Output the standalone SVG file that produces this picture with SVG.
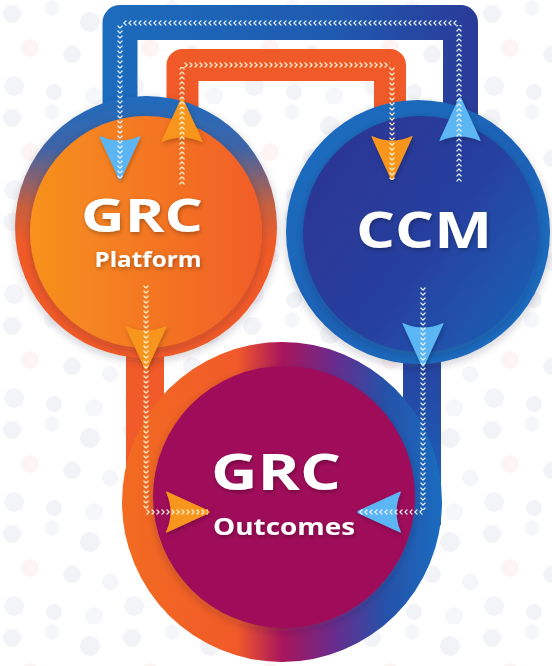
<svg xmlns="http://www.w3.org/2000/svg" xmlns:xlink="http://www.w3.org/1999/xlink" width="552" height="666" viewBox="0 0 552 666">
  <defs>
    <style>
      .label { font-family: "Open Sans", "Liberation Sans", sans-serif; font-weight: 700; fill: #ffffff; text-anchor: middle; }
      .sub { font-family: "Open Sans", "Liberation Sans", sans-serif; font-weight: 700; fill: #ffffff; text-anchor: middle; }
      .chev-b { fill: url(#chevB); }
      .chev-o { fill: url(#chevO); }
      .head-b { fill: #5bb6f3; }
      .head-o { fill: #f8951d; }
    </style>

    <!-- faint dotted backdrop -->
    <pattern id="dots" patternUnits="userSpaceOnUse" width="120" height="104">
      <circle cx="12" cy="14" r="9" fill="#f3f4f8"/>
      <circle cx="52" cy="8" r="8" fill="#f6f7fa"/>
      <circle cx="90" cy="22" r="10" fill="#f2f3f7"/>
      <circle cx="30" cy="48" r="9" fill="#fdf4f4"/>
      <circle cx="72" cy="54" r="9" fill="#f3f4f8"/>
      <circle cx="110" cy="62" r="8" fill="#f5f6f9"/>
      <circle cx="14" cy="86" r="10" fill="#f4f5f9"/>
      <circle cx="54" cy="92" r="8" fill="#f2f3f7"/>
      <circle cx="94" cy="96" r="9" fill="#f6f7fa"/>
    </pattern>

    <!-- chevron strips: one "v" every 5px, centred on x=0 -->
    <pattern id="chevB" patternUnits="userSpaceOnUse" x="-3" y="0" width="6" height="5">
      <path d="M0.9,1 L3,3.2 L5.1,1" fill="none" stroke="#e3f1ff" stroke-width="1.2" stroke-linecap="round" stroke-linejoin="round"/>
    </pattern>
    <pattern id="chevO" patternUnits="userSpaceOnUse" x="-3" y="0" width="6" height="5">
      <path d="M0.9,1 L3,3.2 L5.1,1" fill="none" stroke="#fff2cf" stroke-width="1.2" stroke-linecap="round" stroke-linejoin="round"/>
    </pattern>

    <!-- arrowhead pointing down, tip at origin -->
    <path id="ahead" d="M-20,-44 Q0,-35 20,-44 Q21,-45 20,-42 L1.5,-1.5 Q0,1 -1.5,-1.5 L-20,-42 Q-21,-45 -20,-44 Z"/>

    <linearGradient id="bandBlue" gradientUnits="userSpaceOnUse" x1="100" y1="0" x2="480" y2="0">
      <stop offset="0" stop-color="#1c6cbd"/>
      <stop offset="0.6" stop-color="#1f5bb0"/>
      <stop offset="1" stop-color="#2a3a98"/>
    </linearGradient>
    <linearGradient id="barBlue" gradientUnits="userSpaceOnUse" x1="0" y1="330" x2="0" y2="520">
      <stop offset="0" stop-color="#2a3d99"/>
      <stop offset="1" stop-color="#1766bf"/>
    </linearGradient>

    <linearGradient id="platRing" gradientUnits="userSpaceOnUse" x1="0" y1="96" x2="0" y2="358">
      <stop offset="0" stop-color="#1f6bbd"/>
      <stop offset="0.2" stop-color="#3f64a6"/>
      <stop offset="0.42" stop-color="#c8603f"/>
      <stop offset="0.56" stop-color="#f05a28"/>
      <stop offset="1" stop-color="#f15a29"/>
    </linearGradient>
    <linearGradient id="platFill" gradientUnits="userSpaceOnUse" x1="29" y1="0" x2="263" y2="0">
      <stop offset="0" stop-color="#f7921e"/>
      <stop offset="1" stop-color="#f15d27"/>
    </linearGradient>

    <linearGradient id="ccmRing" gradientUnits="userSpaceOnUse" x1="300" y1="100" x2="540" y2="364">
      <stop offset="0" stop-color="#1e6ec0"/>
      <stop offset="0.5" stop-color="#1c62b6"/>
      <stop offset="1" stop-color="#1f6fc2"/>
    </linearGradient>
    <linearGradient id="ccmFill" gradientUnits="userSpaceOnUse" x1="302" y1="150" x2="540" y2="320">
      <stop offset="0" stop-color="#2b3491"/>
      <stop offset="0.55" stop-color="#2740a0"/>
      <stop offset="1" stop-color="#1b62b6"/>
    </linearGradient>

    <linearGradient id="outRing" gradientUnits="userSpaceOnUse" x1="122" y1="0" x2="442" y2="0">
      <stop offset="0" stop-color="#f26b21"/>
      <stop offset="0.36" stop-color="#f15a29"/>
      <stop offset="0.5" stop-color="#a8155b"/>
      <stop offset="0.66" stop-color="#6a2b8c"/>
      <stop offset="0.82" stop-color="#2651a8"/>
      <stop offset="1" stop-color="#1a6cc0"/>
    </linearGradient>

    <filter id="soft" x="-20%" y="-20%" width="140%" height="140%">
      <feDropShadow dx="0" dy="3" stdDeviation="4" flood-color="#1a1a2e" flood-opacity="0.22"/>
    </filter>
    <filter id="txt" x="-20%" y="-30%" width="140%" height="160%">
      <feDropShadow dx="1" dy="2" stdDeviation="2" flood-color="#000000" flood-opacity="0.3"/>
    </filter>
    <filter id="headShadow" x="-40%" y="-40%" width="180%" height="180%">
      <feDropShadow dx="1" dy="2" stdDeviation="2" flood-color="#000000" flood-opacity="0.25"/>
    </filter>
  </defs>

  <!-- backdrop -->
  <rect width="552" height="666" fill="#ffffff"/>
  <rect width="552" height="666" fill="url(#dots)"/>

  <!-- thick bands linking the nodes (drawn under the circles) -->
  <g id="connector-bands">
    <path d="M120,125 V22.5 H460.5 V120" fill="none" stroke="url(#bandBlue)" stroke-width="35" stroke-linejoin="round"/>
    <path d="M182.5,125 V65 H390 V125" fill="none" stroke="#f05a28" stroke-width="32" stroke-linejoin="round"/>
    <rect x="126" y="300" width="38" height="225" fill="#f15a29"/>
    <rect x="403" y="320" width="38" height="205" fill="url(#barBlue)"/>
  </g>

  <g id="grc-outcomes">
    <circle cx="282" cy="502" r="160" fill="url(#outRing)"/>
    <circle cx="284" cy="497" r="131" fill="#9f0a5a" filter="url(#soft)"/>
    <text class="label" x="276" y="490" font-size="50" textLength="130" lengthAdjust="spacingAndGlyphs" filter="url(#txt)">GRC</text>
    <text class="sub" x="284" y="535" font-size="24" textLength="142" lengthAdjust="spacingAndGlyphs" filter="url(#txt)">Outcomes</text>
  </g>

  <g id="grc-platform">
    <circle cx="146" cy="227" r="131" fill="url(#platRing)" filter="url(#soft)"/>
    <circle cx="146" cy="232" r="116" fill="url(#platFill)" filter="url(#soft)"/>
    <text class="label" x="142" y="232" font-size="46" textLength="122" lengthAdjust="spacingAndGlyphs" filter="url(#txt)">GRC</text>
    <text class="sub" x="148" y="267" font-size="22" textLength="107" lengthAdjust="spacingAndGlyphs" filter="url(#txt)">Platform</text>
  </g>

  <g id="ccm">
    <circle cx="418" cy="232" r="132" fill="url(#ccmRing)" filter="url(#soft)"/>
    <circle cx="421" cy="234" r="118" fill="url(#ccmFill)" filter="url(#soft)"/>
    <text class="label" x="424" y="248" font-size="50" textLength="136" lengthAdjust="spacingAndGlyphs" filter="url(#txt)">CCM</text>
  </g>

  <!-- flow arrows: heads plus chevron trails -->
  <g id="connectors">
    <g filter="url(#headShadow)">
      <use xlink:href="#ahead" class="head-b" transform="translate(120,180)"/>
      <use xlink:href="#ahead" class="head-b" transform="translate(460,97) rotate(180)"/>
      <use xlink:href="#ahead" class="head-o" transform="translate(182,98) rotate(180)"/>
      <use xlink:href="#ahead" class="head-o" transform="translate(392,180)"/>
      <use xlink:href="#ahead" class="head-o" transform="translate(146,370)"/>
      <use xlink:href="#ahead" class="head-b" transform="translate(423,367)"/>
      <use xlink:href="#ahead" class="head-o" transform="translate(210,512) rotate(-90)"/>
      <use xlink:href="#ahead" class="head-b" transform="translate(357,512) rotate(90)"/>
    </g>

    <!-- CCM -> GRC Platform loop -->
    <g transform="translate(459,182) rotate(180)"><rect class="chev-b" x="-3" y="0" width="6" height="157"/></g>
    <g transform="translate(457,23) rotate(90)"><rect class="chev-b" x="-3" y="0" width="6" height="335"/></g>
    <g transform="translate(120,25)"><rect class="chev-b" x="-3" y="0" width="6" height="153"/></g>

    <!-- GRC Platform -> CCM loop -->
    <g transform="translate(182,185) rotate(180)"><rect class="chev-o" x="-3" y="0" width="6" height="118"/></g>
    <g transform="translate(184,65) rotate(-90)"><rect class="chev-o" x="-3" y="0" width="6" height="206"/></g>
    <g transform="translate(392,67)"><rect class="chev-o" x="-3" y="0" width="6" height="113"/></g>

    <!-- GRC Platform -> GRC Outcomes -->
    <g transform="translate(146,285)"><rect class="chev-o" x="-3" y="0" width="6" height="225"/></g>
    <g transform="translate(146,512) rotate(-90)"><rect class="chev-o" x="-3" y="0" width="6" height="62"/></g>

    <!-- CCM -> GRC Outcomes -->
    <g transform="translate(423,287)"><rect class="chev-b" x="-3" y="0" width="6" height="223"/></g>
    <g transform="translate(423,512) rotate(90)"><rect class="chev-b" x="-3" y="0" width="6" height="65"/></g>
  </g>
</svg>
